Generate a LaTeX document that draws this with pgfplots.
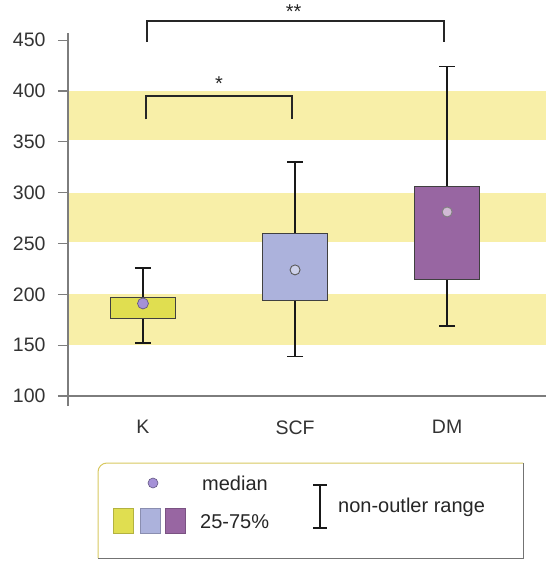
\documentclass[border=0pt]{standalone}
\usepackage{pgfplots}
\pgfplotsset{compat=1.18}
\usepackage{fontspec}
\setmainfont{Liberation Sans}

\definecolor{band}{RGB}{248,239,168}
\definecolor{kcol}{RGB}{224,222,80}
\definecolor{scfcol}{RGB}{172,178,220}
\definecolor{dmcol}{RGB}{152,102,162}
\definecolor{medcol}{RGB}{165,145,215}
\definecolor{axgray}{RGB}{125,125,125}
\definecolor{legborder}{RGB}{215,200,95}

\begin{document}
\begin{tikzpicture}
\useasboundingbox (-68pt,-168pt) rectangle (478pt,396pt);
\begin{axis}[
  at={(0pt,0pt)}, anchor=south west,
  scale only axis, width=478pt, height=363pt,
  xmin=-0.493, xmax=2.65, ymin=100, ymax=457,
  axis x line*=bottom, axis y line*=left,
  axis line style={-, axgray, line width=1.4pt},
  axis on top,
  ytick={100,150,...,450},
  tick align=outside, major tick length=10pt,
  y tick style={axgray, line width=1.2pt},
  xtick={0,1,2}, xticklabels={K,SCF,DM},
  x tick style={draw=none},
  extra x ticks={-0.493}, extra x tick labels={},
  extra x tick style={x tick style={draw=axgray, line width=1.4pt}},
  xticklabel style={yshift=-11pt},
  yticklabel style={xshift=-9pt},
  tick label style={font=\fontsize{19.5}{22}\selectfont, color=black!80},
  /pgf/number format/assume math mode=true,
  clip=false,
]
% background bands
\addplot[fill=band, draw=none] coordinates {(-0.493,150) (2.65,150) (2.65,200) (-0.493,200)};
\addplot[fill=band, draw=none] coordinates {(-0.493,251) (2.65,251) (2.65,300) (-0.493,300)};
\addplot[fill=band, draw=none] coordinates {(-0.493,352) (2.65,352) (2.65,400) (-0.493,400)};

% whiskers (non-outlier range) as asymmetric error bars about the median
\addplot[draw=none, mark=none, forget plot,
  error bars/.cd, y dir=both, y explicit,
  error bar style={line width=1.6pt, black!90},
  error mark options={rotate=90, mark size=8pt, line width=1.6pt, black!90}]
  coordinates {
    (0,191) += (0,35) -= (0,39)
    (1,224) += (0,106) -= (0,85)
    (2,281) += (0,143) -= (0,112)
  };

% boxes (25-75%)
\addplot[fill=kcol, draw=black!75, line width=0.8pt] coordinates {(-0.215,176) (0.215,176) (0.215,197) (-0.215,197) (-0.215,176)};
\addplot[fill=scfcol, draw=black!75, line width=0.8pt] coordinates {(0.785,194) (1.215,194) (1.215,260) (0.785,260) (0.785,194)};
\addplot[fill=dmcol, draw=black!75, line width=0.8pt] coordinates {(1.785,215) (2.215,215) (2.215,306) (1.785,306) (1.785,215)};

% medians
\addplot[only marks, mark=*, mark size=5.5pt, mark options={fill=medcol, draw=medcol!60!black, line width=0.7pt}] coordinates {(0,191)};
\addplot[only marks, mark=*, mark size=5pt, mark options={fill=scfcol!60!white, draw=black!65, line width=0.9pt}] coordinates {(1,224)};
\addplot[only marks, mark=*, mark size=5pt, mark options={fill=dmcol!45!white, draw=black!50, line width=0.9pt}] coordinates {(2,281)};

% significance brackets
\addplot[black!85, line width=1.5pt, mark=none] coordinates {(0.026,448) (0.026,469) (1.98,469) (1.98,448)};
\addplot[black!85, line width=1.5pt, mark=none] coordinates {(0.02,372) (0.02,395) (0.98,395) (0.98,372)};
\node[font=\fontsize{20}{22}\selectfont, text=black!85] at (axis cs:0.5,407) {*};
\node[font=\fontsize{20}{22}\selectfont, text=black!85] at (axis cs:0.99,478) {**};
\end{axis}

% legend
\draw[legborder, line width=1pt, rounded corners=9pt] (30pt,-162pt) -- (30pt,-67pt) -- (455pt,-67pt);
\draw[black!55, line width=1pt] (455pt,-67pt) -- (455pt,-162pt) -- (30pt,-162pt);
\fill[medcol, draw=medcol!60!black, line width=0.6pt] (85pt,-87pt) circle (5pt);
\node[anchor=west, font=\fontsize{20}{22}\selectfont, text=black!85, inner sep=0pt] at (134pt,-87pt) {median};
\fill[kcol, draw=kcol!80!black, line width=0.5pt] (45pt,-112pt) rectangle (65pt,-137pt);
\fill[scfcol, draw=scfcol!80!black, line width=0.5pt] (72pt,-112pt) rectangle (92pt,-137pt);
\fill[dmcol, draw=dmcol!80!black, line width=0.5pt] (97pt,-112pt) rectangle (117pt,-137pt);
\node[anchor=west, font=\fontsize{20}{22}\selectfont, text=black!85, inner sep=0pt] at (132pt,-126pt) {25-75\%};
\draw[black!90, line width=1.5pt] (252pt,-89pt) -- (252pt,-132pt);
\draw[black!90, line width=1.5pt] (245pt,-89pt) -- (259pt,-89pt);
\draw[black!90, line width=1.5pt] (245pt,-132pt) -- (259pt,-132pt);
\node[anchor=west, font=\fontsize{20}{22}\selectfont, text=black!85, inner sep=0pt] at (270pt,-111pt) {non-outler range};
\end{tikzpicture}
\end{document}
